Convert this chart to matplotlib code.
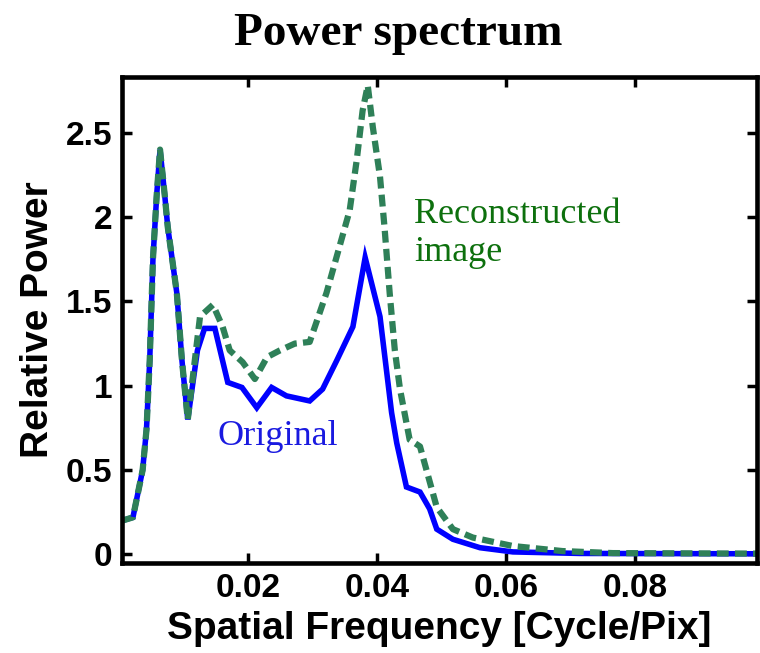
import numpy as np
import matplotlib.pyplot as plt

# Spatial frequency [cycle/pix] and relative power
freq_orig = [0.0005, 0.0022, 0.0037, 0.0043, 0.0048, 0.0053, 0.0059, 0.0064,
             0.0071, 0.0076, 0.0090, 0.0098, 0.0107, 0.0122, 0.0133, 0.0149,
             0.0169, 0.0191, 0.0214, 0.0237, 0.0260, 0.0296, 0.0316, 0.0338,
             0.0363, 0.0382, 0.0405, 0.0423, 0.0431, 0.0446, 0.0467, 0.0482,
             0.0493, 0.0518, 0.0560, 0.0611, 0.0715, 0.0850, 0.0990]
power_orig = [0.20, 0.22, 0.50, 0.74, 1.15, 1.75, 2.14, 2.40,
              2.14, 1.94, 1.55, 1.15, 0.80, 1.21, 1.34, 1.34,
              1.02, 0.99, 0.87, 0.99, 0.94, 0.91, 0.98, 1.15,
              1.35, 1.76, 1.41, 0.84, 0.66, 0.40, 0.37, 0.27,
              0.15, 0.09, 0.04, 0.015, 0.006, 0.005, 0.004]

freq_rec = [0.0005, 0.0022, 0.0037, 0.0043, 0.0048, 0.0053, 0.0059, 0.0064,
            0.0071, 0.0076, 0.0090, 0.0098, 0.0107, 0.0126, 0.0146, 0.0161,
            0.0172, 0.0192, 0.0211, 0.0230, 0.0250, 0.0273, 0.0296, 0.0322,
            0.0358, 0.0369, 0.0378, 0.0386, 0.0394, 0.0405, 0.0412, 0.0420,
            0.0428, 0.0436, 0.0451, 0.0467, 0.0493, 0.0518, 0.0549, 0.0611,
            0.0688, 0.0766, 0.0990]
power_rec = [0.20, 0.22, 0.50, 0.74, 1.15, 1.75, 2.14, 2.40,
             2.14, 1.94, 1.55, 1.15, 0.80, 1.41, 1.48, 1.35,
             1.21, 1.14, 1.04, 1.17, 1.21, 1.25, 1.26, 1.55,
             2.04, 2.34, 2.63, 2.78, 2.53, 2.24, 1.94, 1.55,
             1.21, 0.98, 0.68, 0.64, 0.28, 0.15, 0.10, 0.05,
             0.02, 0.008, 0.005]

fig = plt.figure(figsize=(7.6, 6.53), dpi=100)
ax = fig.add_axes([0.1605, 0.138, 0.836, 0.744])

ax.plot(freq_orig, power_orig, color='#0000ff', lw=4, solid_joinstyle='miter')
ax.plot(freq_rec, power_rec, color='#2e8058', lw=4.5, ls=(0, (1.9, 1.0)))

ax.set_xlim(0.0005, 0.099)
ax.set_ylim(-0.05, 2.83)
ax.set_xticks([0.02, 0.04, 0.06, 0.08])
ax.set_xticklabels(['0.02', '0.04', '0.06', '0.08'])
ax.set_yticks([0, 0.5, 1, 1.5, 2, 2.5])
ax.set_yticklabels(['0', '0.5', '1', '1.5', '2', '2.5'])

for s in ax.spines.values():
    s.set_linewidth(3.3)
ax.tick_params(direction='in', length=7, width=2.5, top=True, right=True,
               labelsize=24, pad=7)
for lab in ax.get_xticklabels() + ax.get_yticklabels():
    lab.set_fontfamily('Liberation Sans')
    lab.set_fontweight('bold')

ax.set_xlabel('Spatial Frequency [Cycle/Pix]', fontsize=28, fontweight='bold',
              family='Liberation Sans', labelpad=5)
ax.set_ylabel('Relative Power', fontsize=28, fontweight='bold',
              family='Liberation Sans', labelpad=7)
fig.text(0.524, 0.948, 'Power spectrum', ha='center', va='center',
         fontsize=34, fontweight='bold', family='Liberation Serif')

ax.text(0.0458, 1.9, 'Reconstructed\nimage', color='#0d700d', fontsize=26,
        family='Liberation Serif', ha='left', va='center', linespacing=1.2)
ax.text(0.0153, 0.70, 'Original', color='#1a1ae0', fontsize=26,
        family='Liberation Serif', ha='left', va='center')

fig.savefig('out.png', dpi=100)
